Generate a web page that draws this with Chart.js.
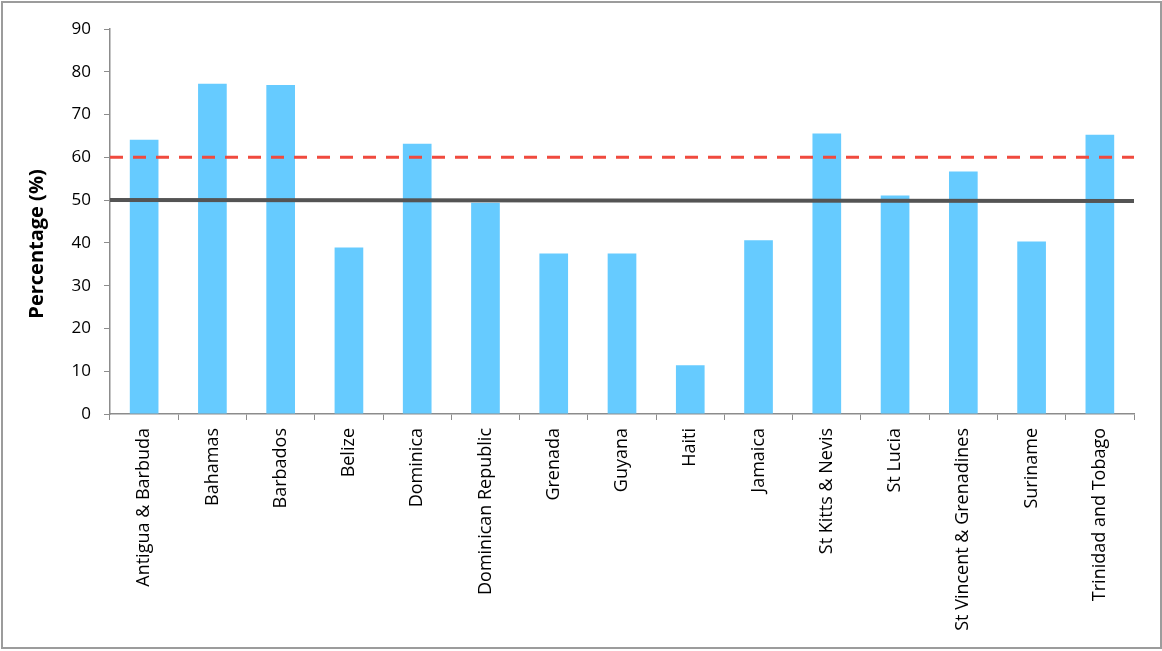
<!DOCTYPE html>
<html>
<head>
<meta charset="utf-8">
<script src="https://cdn.jsdelivr.net/npm/chart.js@4"></script>
<style>
  html, body { margin: 0; padding: 0; background: #fff; }
  #frame {
    position: absolute; left: 1px; top: 1px;
    width: 1161px; height: 648px;
    box-sizing: border-box;
    border: 2px solid #9c9c9c;
  }
  #chart { display: block; }
</style>
</head>
<body>
<div id="frame"><canvas id="chart" width="1157" height="644"></canvas></div>
<script>
// Share of each country.
const countries = [
  'Antigua & Barbuda', 'Bahamas', 'Barbados', 'Belize', 'Dominica',
  'Dominican Republic', 'Grenada', 'Guyana', 'Haiti', 'Jamaica',
  'St Kitts & Nevis', 'St Lucia', 'St Vincent & Grenadines', 'Suriname',
  'Trinidad and Tobago',
];
const percentages = [
  64.1, 77.2, 76.9, 38.9, 63.2,
  49.4, 37.5, 37.5, 11.4, 40.6,
  65.6, 51.1, 56.7, 40.3, 65.3,
];

// Reference lines run across the whole plot, left edge (0) to right edge (1).
const lineX = [0, 1];
const targetLine = [60, 60];
const averageLine = [50, 49.8];

const yTicks = { min: 0, max: 90, step: 10 };
const yTitle = 'Percentage (%)';

const FONT = '"Open Sans", "DejaVu Sans", sans-serif';
const AXIS = '#8c8c8c';

const pts = (ys) => lineX.map((x, i) => ({ x, y: ys[i] }));

// Axis title sits a little lower than the plot centre in the original,
// so it is drawn by hand instead of through scale.title.
const yTitlePlugin = {
  id: 'yTitle',
  afterDraw(chart) {
    const { ctx } = chart;
    ctx.save();
    ctx.translate(34, 241);
    ctx.rotate(-Math.PI / 2);
    ctx.font = `bold 20px ${FONT}`;
    ctx.fillStyle = '#000';
    ctx.textAlign = 'center';
    ctx.textBaseline = 'middle';
    ctx.fillText(yTitle, 0, 0);
    ctx.restore();
  },
};

new Chart(document.getElementById('chart'), {
  data: {
    labels: countries,
    datasets: [
      {
        type: 'bar',
        data: percentages,
        backgroundColor: '#66cbff',
        borderWidth: 0,
        grouped: false,
        barPercentage: 0.42,
        categoryPercentage: 1,
        order: 2,
      },
      {
        type: 'line',
        xAxisID: 'xLine',
        data: pts(averageLine),
        borderColor: '#545454',
        borderWidth: 4,
        pointRadius: 0,
        order: 1,
        clip: false,
      },
      {
        type: 'line',
        xAxisID: 'xLine',
        data: pts(targetLine),
        borderColor: '#f04a3e',
        borderWidth: 3,
        borderDash: [13, 10],
        pointRadius: 0,
        order: 0,
        clip: false,
      },
    ],
  },
  options: {
    responsive: false,
    animation: false,
    layout: { padding: { top: 26, right: 26, left: 0, bottom: 0 } },
    plugins: { legend: { display: false }, tooltip: { enabled: false } },
    scales: {
      x: {
        offset: true,
        grid: { offset: true, drawOnChartArea: false, color: AXIS, tickLength: 6 },
        border: { color: AXIS, width: 1.5 },
        ticks: {
          minRotation: 90, maxRotation: 90, autoSkip: false,
          padding: 8, color: '#000', font: { family: FONT, size: 18 },
        },
        afterFit: (s) => { s.height = 233; },
      },
      xLine: {
        type: 'linear', display: false, min: lineX[0], max: lineX[1],
      },
      y: {
        min: yTicks.min, max: yTicks.max,
        grid: { drawOnChartArea: false, color: AXIS, tickLength: 6 },
        border: { color: AXIS, width: 1.5 },
        ticks: {
          stepSize: yTicks.step, padding: 13, color: '#000',
          font: { family: FONT, size: 17 },
        },
        afterFit: (s) => { s.width = 107; },
      },
    },
  },
  plugins: [yTitlePlugin],
});
</script>
</body>
</html>
